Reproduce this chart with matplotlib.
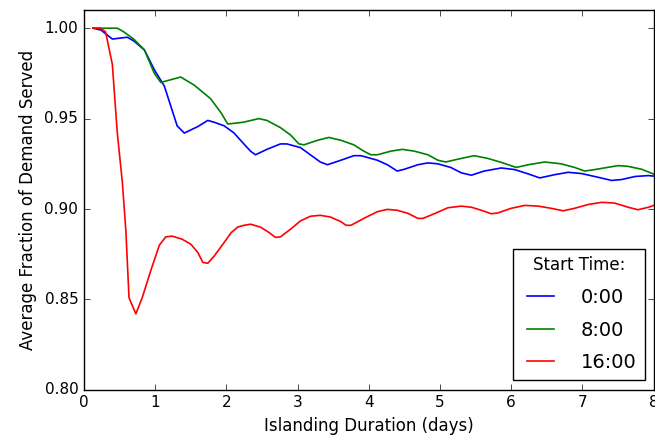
"""Average fraction of demand served vs islanding duration, by start time."""

import matplotlib

matplotlib.use("Agg")
import matplotlib.pyplot as plt

# 0:00 start
days_0 = [0.13, 0.24, 0.40, 0.61, 0.70, 0.85, 0.99, 1.13, 1.31, 1.41, 1.60, 1.74,
          1.83, 1.97, 2.11, 2.20, 2.34, 2.41, 2.57, 2.76, 2.85, 3.04, 3.18, 3.32,
          3.42, 3.61, 3.79, 3.89, 4.12, 4.26, 4.40, 4.50, 4.69, 4.83, 4.97, 5.15,
          5.30, 5.44, 5.62, 5.86, 6.05, 6.24, 6.40, 6.61, 6.80, 6.99, 7.17, 7.41,
          7.55, 7.74, 7.93, 8.04]
served_0 = [1.000, 0.999, 0.994, 0.995, 0.993, 0.988, 0.977, 0.968, 0.946, 0.942,
            0.9456, 0.949, 0.948, 0.946, 0.942, 0.938, 0.932, 0.930, 0.933, 0.936,
            0.936, 0.934, 0.930, 0.926, 0.9245, 0.927, 0.9295, 0.9295, 0.927,
            0.9245, 0.921, 0.922, 0.9245, 0.9255, 0.925, 0.923, 0.920, 0.9187,
            0.921, 0.9227, 0.9218, 0.9194, 0.9172, 0.919, 0.9203, 0.9196, 0.918,
            0.9158, 0.9163, 0.918, 0.9185, 0.918]

# 8:00 start
days_8 = [0.13, 0.47, 0.56, 0.70, 0.85, 0.99, 1.08, 1.36, 1.55, 1.78, 1.93, 2.02,
          2.24, 2.455, 2.57, 2.76, 2.90, 3.02, 3.09, 3.28, 3.44, 3.61, 3.79, 3.93,
          4.03, 4.12, 4.31, 4.47, 4.64, 4.83, 4.97, 5.08, 5.30, 5.48, 5.67, 5.86,
          6.07, 6.24, 6.47, 6.70, 6.89, 7.03, 7.17, 7.50, 7.64, 7.83, 8.02]
served_8 = [1.000, 1.000, 0.998, 0.994, 0.988, 0.975, 0.970, 0.973, 0.9685, 0.961,
            0.953, 0.947, 0.948, 0.950, 0.949, 0.945, 0.941, 0.936, 0.9355, 0.938,
            0.9396, 0.938, 0.9355, 0.932, 0.930, 0.930, 0.932, 0.933, 0.932, 0.930,
            0.927, 0.926, 0.928, 0.9295, 0.928, 0.9258, 0.923, 0.9245, 0.926,
            0.925, 0.923, 0.921, 0.9218, 0.924, 0.9236, 0.922, 0.919]

# 16:00 start
days_16 = [0.13, 0.235, 0.305, 0.40, 0.47, 0.54, 0.59, 0.634, 0.73, 0.82, 0.94,
           1.06, 1.15, 1.24, 1.38, 1.50, 1.60, 1.67, 1.74, 1.83, 1.97, 2.07, 2.16,
           2.25, 2.34, 2.48, 2.60, 2.69, 2.76, 2.90, 3.04, 3.18, 3.32, 3.46, 3.61,
           3.68, 3.75, 3.93, 4.12, 4.26, 4.40, 4.55, 4.69, 4.76, 4.92, 5.11, 5.30,
           5.44, 5.58, 5.72, 5.81, 6.00, 6.19, 6.38, 6.56, 6.73, 6.89, 7.08, 7.27,
           7.45, 7.64, 7.78, 7.93, 8.04]
served_16 = [1.000, 1.000, 0.998, 0.980, 0.942, 0.915, 0.888, 0.851, 0.842, 0.851,
             0.866, 0.880, 0.8846, 0.885, 0.8833, 0.8806, 0.876, 0.8705, 0.870,
             0.874, 0.8815, 0.887, 0.890, 0.891, 0.8916, 0.890, 0.887, 0.8843,
             0.8846, 0.8888, 0.8934, 0.896, 0.8965, 0.8956, 0.893, 0.891, 0.891,
             0.8948, 0.8985, 0.8998, 0.8993, 0.8976, 0.8948, 0.8948, 0.8974, 0.9007,
             0.9016, 0.901, 0.8993, 0.8974, 0.8978, 0.9004, 0.902, 0.9016, 0.9004,
             0.899, 0.9004, 0.9025, 0.9037, 0.9033, 0.901, 0.8996, 0.901, 0.9026]

labels = ["0:00", "8:00", "16:00"]
x_ticks = [0, 1, 2, 3, 4, 5, 6, 7, 8]
y_ticks = [0.80, 0.85, 0.90, 0.95, 1.00]

plt.style.use("classic")
fig = plt.figure(figsize=(6.55, 4.40), dpi=100, facecolor="white")
ax = fig.add_axes([0.128, 0.114, 0.870, 0.863])

series = [(days_0, served_0, "b"), (days_8, served_8, "g"), (days_16, served_16, "r")]
for (d, v, c), lab in zip(series, labels):
    ax.plot(d, v, color=c, linewidth=1.2, label=lab)

ax.set_xlim(0, 8)
ax.set_ylim(0.80, 1.01)
ax.set_xticks(x_ticks)
ax.set_yticks(y_ticks)
ax.set_yticklabels([f"{t:.2f}" for t in y_ticks])
ax.tick_params(labelsize=11)
ax.set_xlabel("Islanding Duration (days)", fontsize=12)
ax.set_ylabel("Average Fraction of Demand Served", fontsize=12)

leg = ax.legend(loc="lower right", bbox_to_anchor=(0.984, 0.026), borderaxespad=0,
                title="Start Time:", fontsize=14, handlelength=2.0,
                handletextpad=1.1, labelspacing=0.7, numpoints=2)
leg.get_title().set_fontsize(12)

fig.savefig("out.png", dpi=100, facecolor="white")
